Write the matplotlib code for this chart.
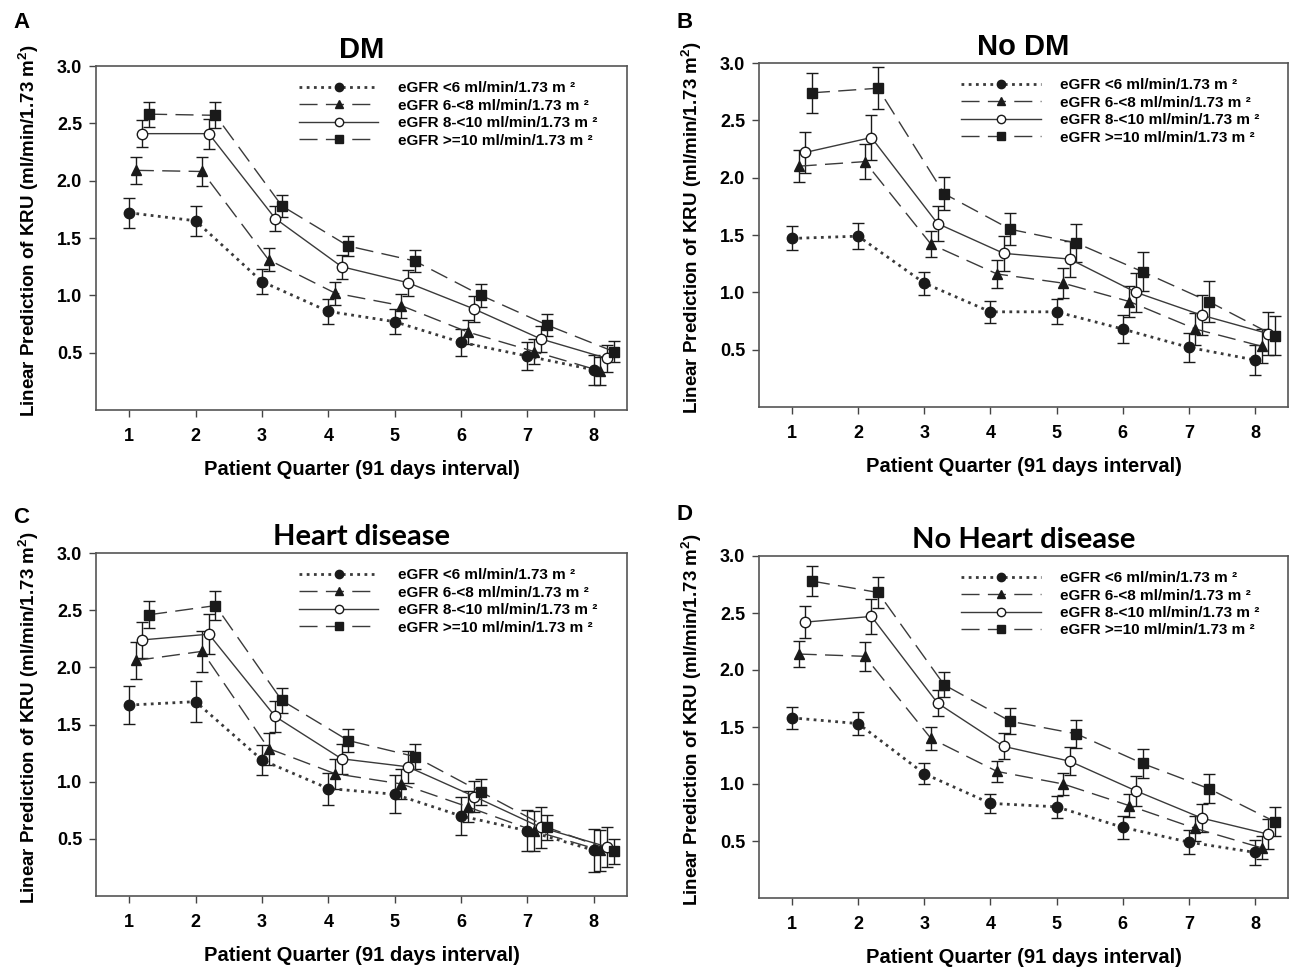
import numpy as np
import matplotlib
matplotlib.use('Agg')
import matplotlib.pyplot as plt
from matplotlib.lines import Line2D

plt.rcParams['font.family'] = ['Liberation Sans', 'DejaVu Sans']
plt.rcParams['font.weight'] = 'bold'
plt.rcParams['mathtext.fontset'] = 'custom'
plt.rcParams['mathtext.rm'] = 'Liberation Sans:bold'
plt.rcParams['mathtext.it'] = 'Liberation Sans:bold'
plt.rcParams['mathtext.bf'] = 'Liberation Sans:bold'

# ---------------- data ----------------
quarters = [1, 2, 3, 4, 5, 6, 7, 8]
y_ticks = [0.5, 1.0, 1.5, 2.0, 2.5, 3.0]
group_labels = [
    'eGFR <6 ml/min/1.73 m \u00b2',
    'eGFR 6-<8 ml/min/1.73 m \u00b2',
    'eGFR 8-<10 ml/min/1.73 m \u00b2',
    'eGFR >=10 ml/min/1.73 m \u00b2',
]
panel_titles = ['DM', 'No DM', 'Heart disease', 'No Heart disease']
panel_letters = ['A', 'B', 'C', 'D']
x_label = 'Patient Quarter (91 days interval)'
y_label = 'Linear Prediction of KRU (ml/min/1.73 m$^2$)'

# Panel A: DM
dm_lt6 = [1.72, 1.65, 1.12, 0.86, 0.77, 0.59, 0.47, 0.35]
dm_lt6_err = [0.13, 0.13, 0.11, 0.11, 0.11, 0.115, 0.125, 0.13]
dm_6_8 = [2.09, 2.08, 1.31, 1.02, 0.91, 0.68, 0.51, 0.34]
dm_6_8_err = [0.12, 0.13, 0.10, 0.10, 0.105, 0.105, 0.105, 0.12]
dm_8_10 = [2.41, 2.41, 1.67, 1.25, 1.11, 0.88, 0.62, 0.45]
dm_8_10_err = [0.12, 0.13, 0.11, 0.105, 0.115, 0.11, 0.11, 0.12]
dm_ge10 = [2.58, 2.57, 1.78, 1.43, 1.30, 1.00, 0.74, 0.51]
dm_ge10_err = [0.11, 0.115, 0.095, 0.09, 0.095, 0.10, 0.095, 0.095]

# Panel B: No DM
nodm_lt6 = [1.47, 1.49, 1.08, 0.83, 0.83, 0.68, 0.52, 0.41]
nodm_lt6_err = [0.105, 0.115, 0.10, 0.095, 0.11, 0.12, 0.125, 0.135]
nodm_6_8 = [2.10, 2.14, 1.42, 1.16, 1.08, 0.92, 0.68, 0.53]
nodm_6_8_err = [0.14, 0.15, 0.115, 0.12, 0.13, 0.135, 0.14, 0.15]
nodm_8_10 = [2.22, 2.35, 1.60, 1.34, 1.29, 1.00, 0.80, 0.64]
nodm_8_10_err = [0.175, 0.195, 0.15, 0.15, 0.16, 0.17, 0.175, 0.185]
nodm_ge10 = [2.74, 2.78, 1.86, 1.55, 1.43, 1.18, 0.92, 0.62]
nodm_ge10_err = [0.175, 0.185, 0.145, 0.14, 0.165, 0.17, 0.175, 0.17]

# Panel C: Heart disease
hd_lt6 = [1.67, 1.70, 1.19, 0.94, 0.89, 0.70, 0.57, 0.40]
hd_lt6_err = [0.165, 0.18, 0.13, 0.14, 0.165, 0.17, 0.18, 0.19]
hd_6_8 = [2.06, 2.14, 1.29, 1.07, 0.98, 0.78, 0.57, 0.40]
hd_6_8_err = [0.165, 0.18, 0.14, 0.13, 0.135, 0.135, 0.175, 0.18]
hd_8_10 = [2.24, 2.29, 1.57, 1.20, 1.13, 0.87, 0.60, 0.43]
hd_8_10_err = [0.155, 0.175, 0.135, 0.13, 0.14, 0.135, 0.18, 0.175]
hd_ge10 = [2.46, 2.54, 1.71, 1.36, 1.22, 0.91, 0.60, 0.39]
hd_ge10_err = [0.12, 0.13, 0.11, 0.10, 0.11, 0.115, 0.11, 0.11]

# Panel D: No Heart disease
nohd_lt6 = [1.58, 1.53, 1.09, 0.83, 0.80, 0.62, 0.49, 0.40]
nohd_lt6_err = [0.095, 0.10, 0.09, 0.085, 0.095, 0.10, 0.105, 0.11]
nohd_6_8 = [2.14, 2.12, 1.40, 1.11, 1.00, 0.81, 0.61, 0.44]
nohd_6_8_err = [0.115, 0.125, 0.10, 0.095, 0.10, 0.10, 0.11, 0.10]
nohd_8_10 = [2.42, 2.47, 1.71, 1.33, 1.20, 0.94, 0.70, 0.56]
nohd_8_10_err = [0.14, 0.15, 0.115, 0.115, 0.125, 0.13, 0.125, 0.13]
nohd_ge10 = [2.78, 2.68, 1.87, 1.55, 1.44, 1.18, 0.96, 0.67]
nohd_ge10_err = [0.13, 0.14, 0.11, 0.115, 0.12, 0.125, 0.125, 0.125]

panels = [
    [(dm_lt6, dm_lt6_err), (dm_6_8, dm_6_8_err), (dm_8_10, dm_8_10_err), (dm_ge10, dm_ge10_err)],
    [(nodm_lt6, nodm_lt6_err), (nodm_6_8, nodm_6_8_err), (nodm_8_10, nodm_8_10_err), (nodm_ge10, nodm_ge10_err)],
    [(hd_lt6, hd_lt6_err), (hd_6_8, hd_6_8_err), (hd_8_10, hd_8_10_err), (hd_ge10, hd_ge10_err)],
    [(nohd_lt6, nohd_lt6_err), (nohd_6_8, nohd_6_8_err), (nohd_8_10, nohd_8_10_err), (nohd_ge10, nohd_ge10_err)],
]

# ---------------- styling / layout ----------------
dodge = [0.0, 0.1, 0.2, 0.3]
ink = '#1a1a1a'
line_col = '#3a3a3a'
styles = [
    dict(ls=(0, (1, 1.6)), lw=2.0, marker='o', mfc=ink),
    dict(ls=(0, (13, 6)), lw=1.0, marker='^', mfc=ink),
    dict(ls='-', lw=1.0, marker='o', mfc='white'),
    dict(ls=(0, (13, 6)), lw=1.0, marker='s', mfc=ink),
]
W, H = 1291, 969
boxes_px = [  # left, top, right, bottom in pixels
    (96, 66, 627, 410),
    (759, 63, 1288, 407),
    (96, 553, 627, 896),
    (759, 556, 1288, 898),
]
title_fonts = [['Liberation Sans'], ['Liberation Sans'], ['Lato', 'Liberation Sans'], ['Lato', 'Liberation Sans']]
letter_pos = [(13, 28), (676, 28), (13, 523), (676, 520)]

fig = plt.figure(figsize=(W / 100, H / 100), dpi=100)
fig.patch.set_facecolor('white')

for i, series in enumerate(panels):
    l, t, r, b = boxes_px[i]
    ax = fig.add_axes([l / W, 1 - b / H, (r - l) / W, (b - t) / H])
    x = np.array(quarters, dtype=float)
    handles = []
    for j, (vals, errs) in enumerate(series):
        st = styles[j]
        xs = x + dodge[j]
        ax.errorbar(xs, vals, yerr=errs, fmt='none', ecolor=ink, elinewidth=1.0,
                    capsize=4, capthick=1.0, zorder=2)
        ax.plot(xs, vals, color=line_col, linestyle=st['ls'], linewidth=st['lw'],
                zorder=3)
        ax.plot(xs, vals, linestyle='none', marker=st['marker'], markersize=7.5,
                markerfacecolor=st['mfc'], markeredgecolor=ink, markeredgewidth=1.0,
                zorder=4)
        handles.append(Line2D([0], [0], color=line_col, linestyle=st['ls'],
                              linewidth=st['lw'], marker=st['marker'], markersize=6,
                              markerfacecolor=st['mfc'], markeredgecolor=ink,
                              markeredgewidth=1.0))
    ax.set_xlim(0.5, 8.5)
    ax.set_ylim(0.0, 3.0)
    ax.set_xticks(quarters)
    ax.set_xticklabels([str(q) for q in quarters])
    ax.set_yticks(y_ticks)
    ax.set_yticklabels(['%.1f' % v for v in y_ticks])
    ax.tick_params(axis='both', which='both', direction='out', length=5, width=1.0,
                   color='#444444', labelsize=13, top=False, right=False)
    ax.tick_params(axis='x', pad=8)
    ax.tick_params(axis='y', pad=5)
    for sp in ax.spines.values():
        sp.set_color('#555555')
        sp.set_linewidth(1.2)
    for lab in ax.get_xticklabels() + ax.get_yticklabels():
        lab.set_fontweight('bold')
    ax.set_xlabel(x_label, fontsize=14.5, fontweight='bold', labelpad=11)
    ax.set_ylabel(y_label, fontsize=13.5, fontweight='bold')
    ax.yaxis.set_label_coords(-0.104, 0.52)
    ax.set_title(panel_titles[i], fontsize=21, fontweight='bold', pad=6,
                 family=title_fonts[i])
    leg = ax.legend(handles, group_labels, loc='upper left', bbox_to_anchor=(0.382, 0.955),
                    frameon=False, fontsize=11, handlelength=5.2, handletextpad=1.3,
                    labelspacing=0.22, borderpad=0, borderaxespad=0)
    for txt in leg.get_texts():
        txt.set_fontweight('bold')
    lx, ly = letter_pos[i]
    fig.text(lx / W, 1 - ly / H, panel_letters[i], fontsize=16, fontweight='bold',
             ha='left', va='baseline')

fig.savefig('out.png', dpi=100, facecolor='white')
